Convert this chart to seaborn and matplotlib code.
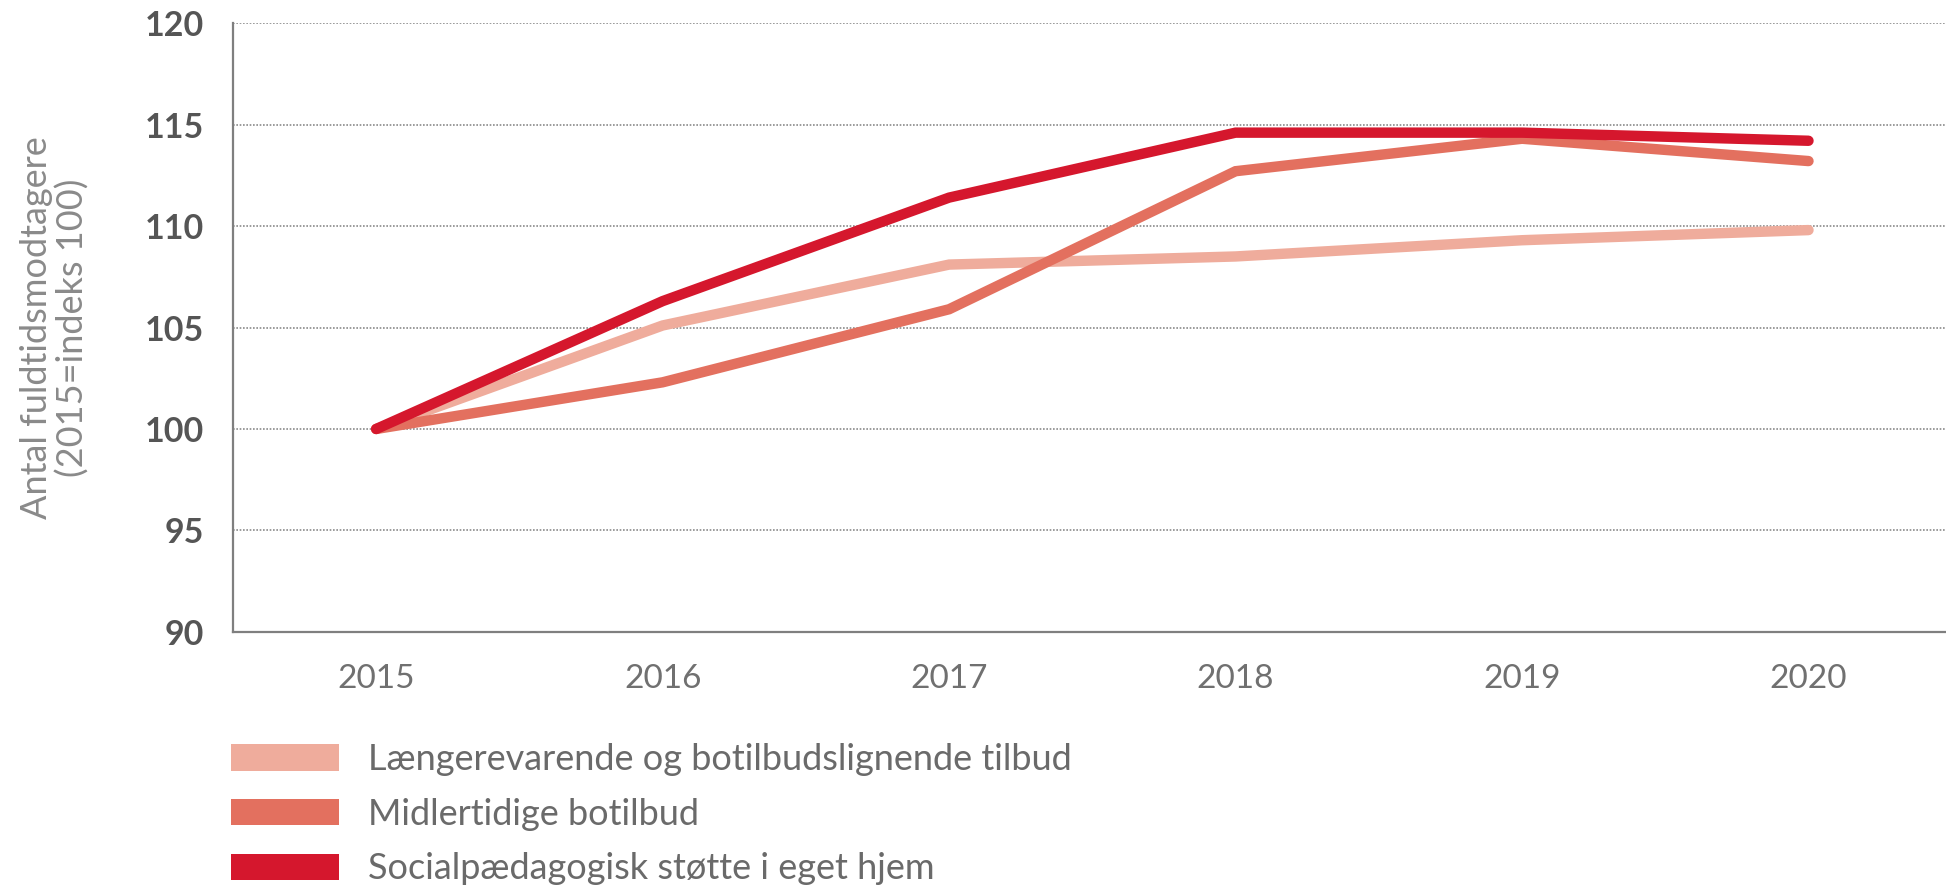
import numpy as np
import pandas as pd
import matplotlib
matplotlib.use("Agg")
import matplotlib.pyplot as plt
import seaborn as sns
from matplotlib.patches import Patch

years = [2015, 2016, 2017, 2018, 2019, 2020]
laengere = [100, 105.1, 108.1, 108.5, 109.3, 109.8]
midlertidige = [100, 102.3, 105.9, 112.7, 114.3, 113.2]
socialpaed = [100, 106.3, 111.4, 114.6, 114.6, 114.2]

series_names = ["Længerevarende og botilbudslignende tilbud",
                "Midlertidige botilbud",
                "Socialpædagogisk støtte i eget hjem"]
colors = ["#EFAC9C", "#E3705F", "#D5172D"]
yticks = [90, 95, 100, 105, 110, 115, 120]

df = pd.DataFrame({
    "year": years * 3,
    "value": laengere + midlertidige + socialpaed,
    "serie": sum([[n] * len(years) for n in series_names], []),
})

sns.set_theme(style="white")
plt.rcParams["font.family"] = ["Lato", "DejaVu Sans"]

fig = plt.figure(figsize=(19.46, 8.86), dpi=100)
ax = fig.add_axes([0.1197, 0.2867, 0.8803, 0.6873])

sns.lineplot(data=df, x="year", y="value", hue="serie", palette=colors,
             hue_order=series_names, linewidth=7.5, ax=ax, legend=False,
             solid_joinstyle="miter")

ax.set_xlim(2014.5, 2020.48)
ax.set_ylim(90, 120)
ax.set_yticks(yticks)
ax.set_xticks(years)
ax.set_xticklabels([str(y) for y in years], fontsize=24, color="#707070")
ax.set_yticklabels([str(y) for y in yticks], fontsize=24.5, color="#555555",
                   fontweight="bold")
ax.tick_params(axis="both", length=0)
ax.tick_params(axis="x", pad=23)
ax.tick_params(axis="y", pad=21)

ax.grid(axis="y", linestyle=(0, (1, 1)), color="#8a8a8a", linewidth=1.2)
ax.grid(axis="x", visible=False)
ax.set_axisbelow(True)

for s in ["top", "right"]:
    ax.spines[s].set_visible(False)
for s in ["left", "bottom"]:
    ax.spines[s].set_color("#7f7f7f")
    ax.spines[s].set_linewidth(1.6)

ax.set_xlabel("")
ax.set_ylabel("Antal fuldtidsmodtagere\n(2015=indeks 100)", fontsize=26,
              color="#8a8a8a", linespacing=1.1)
ax.yaxis.label.set_va("center")
ax.yaxis.set_label_coords(-0.104, 0.5)

handles = [Patch(facecolor=c, edgecolor="none") for c in colors]
fig.legend(handles, series_names, loc="upper left",
           bbox_to_anchor=(0.1185, 1 - 743 / 886), frameon=False,
           fontsize=26, labelcolor="#6a6a6a", handlelength=3.0,
           handleheight=0.75, handletextpad=0.8, labelspacing=0.6,
           borderpad=0, borderaxespad=0)

fig.savefig("out.png", dpi=100)
